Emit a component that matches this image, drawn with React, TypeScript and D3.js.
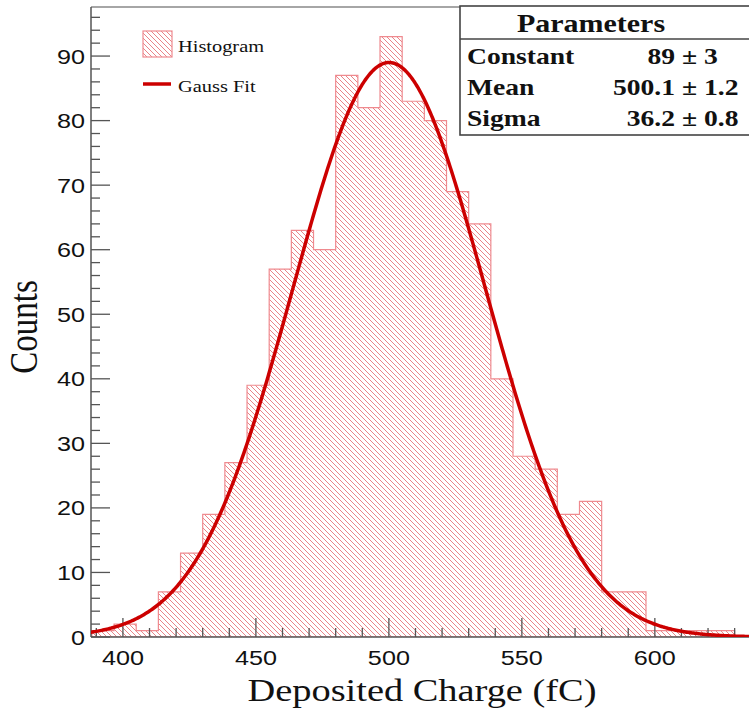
import React from 'react';
import * as d3 from 'd3';

// ---- data ----
const binStart = 380;
const binWidth = 25 / 3;
const binCounts = [0, 1, 2, 1, 7, 13, 19, 27, 39, 57, 63, 60, 87, 82, 93, 83, 80, 69, 64, 40, 28, 26, 19, 21, 7, 7, 1, 1, 1, 1];
const xMajorTicks = [400, 450, 500, 550, 600];
const yMajorTicks = [0, 10, 20, 30, 40, 50, 60, 70, 80, 90];
const fitNames = ['Constant', 'Mean', 'Sigma'];
const fitValues = [89, 500.1, 36.2];
const fitValueLabels = ['89', '500.1', '36.2'];
const fitErrorLabels = ['3', '1.2', '0.8'];
const legendLabels = ['Histogram', 'Gauss Fit'];
const xTitle = 'Deposited Charge (fC)';
const yTitle = 'Counts';

const SX = 1.2; // horizontal stretch of the reference image text

const W = 749;
const H = 708;
const L = 91, R = 749, T = 7, B = 637;

const serif = '"Liberation Serif", "Times New Roman", serif';
const sans = '"Liberation Sans", Arial, Helvetica, sans-serif';

function Txt(props: any) {
  const { x, y, anchor = 'start', size, family, weight = 'normal', rotate = false, fill = '#111', children } = props;
  return (
    <text
      transform={`translate(${x},${y}) scale(${SX},1)${rotate ? ' rotate(-90)' : ''}`}
      textAnchor={anchor}
      fontSize={size}
      fontFamily={family}
      fontWeight={weight}
      fill={fill}
    >
      {children}
    </text>
  );
}

export default function App() {
  const x = d3.scaleLinear().domain([388, 635.4]).range([L, R]);
  const y = d3.scaleLinear().domain([0, 97.6]).range([B, T]);

  // step outline of histogram
  let d = `M${x(binStart)},${y(0)}`;
  binCounts.forEach((c, i) => {
    const lo = binStart + i * binWidth;
    const hi = lo + binWidth;
    d += `L${x(lo)},${y(c)}L${x(hi)},${y(c)}`;
  });
  d += `L${x(binStart + binCounts.length * binWidth)},${y(0)}Z`;

  const [cst, mean, sigma] = fitValues;
  const xs = d3.range(386, 640, 0.5);
  const curve = d3
    .line<number>()
    .x((v) => x(v))
    .y((v) => y(cst * Math.exp(-0.5 * ((v - mean) / sigma) ** 2)))
    .curve(d3.curveLinear)(xs);

  const xMinor = d3.range(390, 636, 10).filter((v) => !xMajorTicks.includes(v));
  const yMinor = d3.range(0, 97, 2).filter((v) => v % 10 !== 0);

  const hatchColor = '#e0474f';
  const outlineColor = '#ef8a8f';
  const fitColor = '#cc0000';
  const axisColor = '#555';

  const rowBase = [64, 95, 126];

  return (
    <svg width={W} height={H} style={{ position: 'absolute', left: 0, top: 0, background: '#fff' }}>
      <defs>
        <pattern id="hatch" patternUnits="userSpaceOnUse" width={5} height={5}>
          <path d="M-1,-1 L6,6 M-1,4 L1,6 M4,-1 L6,1" stroke={hatchColor} strokeWidth={0.8} strokeOpacity={0.85} />
        </pattern>
        <clipPath id="plot">
          <rect x={L} y={T} width={R - L} height={B - T} />
        </clipPath>
      </defs>
      <rect x={0} y={0} width={W} height={H} fill="#fff" />

      {/* histogram */}
      <g clipPath="url(#plot)">
        <path d={d} fill="url(#hatch)" stroke={outlineColor} strokeWidth={1.2} />
      </g>

      {/* frame */}
      <line x1={L} x2={R} y1={T} y2={T} stroke="#888" strokeWidth={1.3} />
      <line x1={L} x2={L} y1={T} y2={B} stroke={axisColor} strokeWidth={1.5} />
      <line x1={L} x2={R} y1={B} y2={B} stroke={axisColor} strokeWidth={1.5} />

      {/* x ticks */}
      {xMajorTicks.map((v) => (
        <line key={'xM' + v} x1={x(v)} x2={x(v)} y1={B} y2={B - 19} stroke={axisColor} strokeWidth={1.3} />
      ))}
      {xMinor.map((v) => (
        <line key={'xm' + v} x1={x(v)} x2={x(v)} y1={B} y2={B - 9} stroke={axisColor} strokeWidth={1.3} />
      ))}
      {/* y ticks */}
      {yMajorTicks.map((v) => (
        <line key={'yM' + v} x1={L} x2={L + 19} y1={y(v)} y2={y(v)} stroke={axisColor} strokeWidth={1.3} />
      ))}
      {yMinor.map((v) => (
        <line key={'ym' + v} x1={L} x2={L + 9} y1={y(v)} y2={y(v)} stroke={axisColor} strokeWidth={1.3} />
      ))}

      {/* fit */}
      <g clipPath="url(#plot)">
        <path d={curve || ''} fill="none" stroke={fitColor} strokeWidth={3.5} strokeLinejoin="round" />
      </g>

      {/* tick labels */}
      {xMajorTicks.map((v) => (
        <Txt key={'xl' + v} x={x(v)} y={665} anchor="middle" size={21} family={sans}>
          {v}
        </Txt>
      ))}
      {yMajorTicks.map((v) => (
        <Txt key={'yl' + v} x={85} y={y(v) + 7.5} anchor="end" size={21} family={sans}>
          {v}
        </Txt>
      ))}

      {/* axis titles */}
      <Txt x={422} y={701} anchor="middle" size={32} family={serif}>
        {xTitle}
      </Txt>
      <Txt x={37} y={327} anchor="middle" size={33} family={serif} rotate>
        {yTitle}
      </Txt>

      {/* legend */}
      <rect x={143} y={31} width={29} height={26} fill="url(#hatch)" stroke={outlineColor} strokeWidth={1.2} />
      <Txt x={178} y={52} size={17} family={serif}>
        {legendLabels[0]}
      </Txt>
      <line x1={143} x2={171} y1={84} y2={84} stroke={fitColor} strokeWidth={3.5} />
      <Txt x={178} y={92} size={17} family={serif}>
        {legendLabels[1]}
      </Txt>

      {/* parameters box */}
      <rect x={460} y={6} width={300} height={129} fill="#fff" stroke="#444" strokeWidth={1.6} />
      <line x1={460} x2={749} y1={39} y2={39} stroke="#444" strokeWidth={1.3} />
      <Txt x={591} y={32} anchor="middle" size={25} family={serif} weight="bold">
        Parameters
      </Txt>
      {fitNames.map((n, i) => (
        <g key={n}>
          <Txt x={467} y={rowBase[i]} size={23} family={serif} weight="bold">
            {n}
          </Txt>
          <Txt x={675} y={rowBase[i]} anchor="end" size={23} family={serif} weight="bold">
            {fitValueLabels[i]}
          </Txt>
          <Txt x={682} y={rowBase[i]} size={23} family={serif} weight="bold">
            {'\u00B1 ' + fitErrorLabels[i]}
          </Txt>
        </g>
      ))}
    </svg>
  );
}
